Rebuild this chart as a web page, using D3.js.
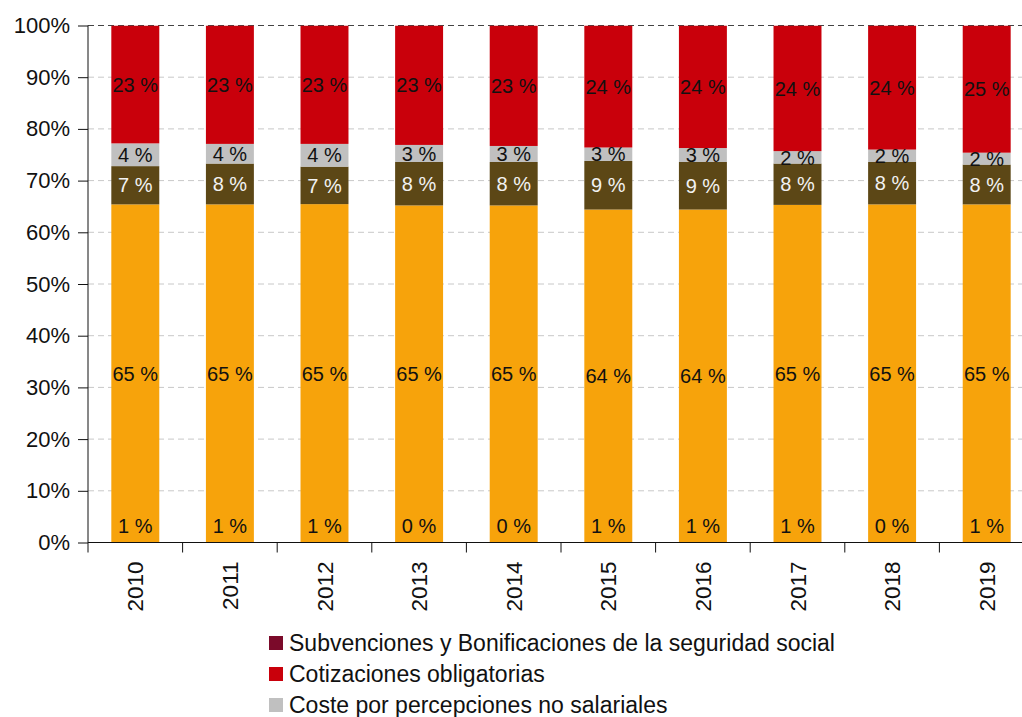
<!DOCTYPE html>
<html>
<head>
<meta charset="utf-8">
<script src="https://cdn.jsdelivr.net/npm/d3@7"></script>
<style>
  body { margin: 0; background: #fff; }
  svg { font-family: "Liberation Sans", Arial, sans-serif; }
</style>
</head>
<body>
<script>
var w = 1022;
var h = 717;

// data (percent of total labour cost)
var years = ["2010", "2011", "2012", "2013", "2014", "2015", "2016", "2017", "2018", "2019"];
var subvenciones = [0.6, 0.7, 0.6, 0.4, 0.3, 0.6, 0.7, 0.5, 0.4, 0.5];
var salario = [65.4, 65.4, 65.45, 65.2, 65.2, 64.4, 64.4, 65.3, 65.4, 65.4];
var pagosExtra = [7.4, 7.9, 7.25, 8.4, 8.4, 9.4, 9.2, 8.0, 8.2, 7.7];
var noSalariales = [4.4, 3.8, 4.4, 3.3, 3.1, 2.6, 2.7, 2.4, 2.4, 2.3];
var cotizaciones = [22.8, 22.9, 22.9, 23.1, 23.3, 23.6, 23.7, 24.3, 24.0, 24.6];
var yTicks = [0, 10, 20, 30, 40, 50, 60, 70, 80, 90, 100];

// legend as it shows in the picture (the other two series have no visible entry)
var legendNames = ["Subvenciones y Bonificaciones de la seguridad social",
                   "Cotizaciones obligatorias",
                   "Coste por percepciones no salariales"];
var legendColors = ["#7b0a2a", "#c9000b", "#c0c0c0"];

// stacked series, bottom to top (subvenciones go below zero and are clipped)
var series = [
  { values: salario, color: "#f7a30b", text: "#111" },
  { values: pagosExtra, color: "#5c4716", text: "#f2f2f2" },
  { values: noSalariales, color: legendColors[2], text: "#111" },
  { values: cotizaciones, color: legendColors[1], text: "#111" }
];

var pLeft = 88, pRight = 1034, pTop = 25.5, pBottom = 542.5;

var x = d3.scaleBand()
  .domain(years)
  .range([pLeft, pRight])
  .paddingInner(0.493)
  .paddingOuter(0.2465);

var y = d3.scaleLinear()
  .domain([0, 100])
  .range([pBottom, pTop]);

var svg = d3.select("body")
  .append("svg")
    .attr("width", w)
    .attr("height", h);

svg.append("defs").append("clipPath").attr("id", "plot")
  .append("rect")
    .attr("x", pLeft).attr("y", pTop)
    .attr("width", pRight - pLeft).attr("height", pBottom - pTop);

// gridlines
svg.append("g").selectAll("line")
  .data(yTicks.slice(1))
  .enter().append("line")
    .attr("x1", pLeft).attr("x2", pRight)
    .attr("y1", function(d) { return y(d); })
    .attr("y2", function(d) { return y(d); })
    .attr("stroke", function(d) { return d === 100 ? "#444" : "#c8c8c8"; })
    .attr("stroke-dasharray", "6,4")
    .attr("stroke-width", 1);

var plot = svg.append("g").attr("clip-path", "url(#plot)");

// subvenciones: drawn below zero
plot.selectAll(".subv")
  .data(subvenciones)
  .enter().append("rect")
    .attr("class", "subv")
    .attr("x", function(d, i) { return x(years[i]); })
    .attr("width", x.bandwidth())
    .attr("y", y(0))
    .attr("height", function(d) { return y(0) - y(d); })
    .attr("fill", legendColors[0]);

var base = years.map(function() { return 0; });
series.forEach(function(s) {
  var segs = s.values.map(function(v, i) {
    var seg = { v: v, y0: base[i], y1: base[i] + v, year: years[i] };
    base[i] += v;
    return seg;
  });
  s.segs = segs;
  plot.selectAll(null)
    .data(segs)
    .enter().append("rect")
      .attr("x", function(d) { return x(d.year); })
      .attr("width", x.bandwidth())
      .attr("y", function(d) { return y(d.y1); })
      .attr("height", function(d) { return y(d.y0) - y(d.y1); })
      .attr("fill", s.color);
});

// labels
series.forEach(function(s) {
  svg.append("g").selectAll("text")
    .data(s.segs)
    .enter().append("text")
      .attr("x", function(d) { return x(d.year) + x.bandwidth() / 2; })
      .attr("y", function(d) { return (y(d.y0) + y(d.y1)) / 2; })
      .attr("dy", "0.36em")
      .attr("text-anchor", "middle")
      .attr("font-size", 20)
      .attr("fill", s.text)
      .text(function(d) { return Math.round(d.v) + " %"; });
});

svg.append("g").selectAll("text")
  .data(subvenciones)
  .enter().append("text")
    .attr("x", function(d, i) { return x(years[i]) + x.bandwidth() / 2; })
    .attr("y", y(0) - 17)
    .attr("dy", "0.36em")
    .attr("text-anchor", "middle")
    .attr("font-size", 20)
    .attr("fill", "#111")
    .text(function(d) { return Math.round(d) + " %"; });

// y axis
var yAxis = svg.append("g")
  .attr("transform", "translate(" + pLeft + ",0)")
  .call(d3.axisLeft(y).tickValues(yTicks).tickSize(10).tickPadding(8)
    .tickFormat(function(d) { return d + "%"; }));
yAxis.select(".domain").remove();
yAxis.selectAll("line").attr("stroke", "#111");
yAxis.selectAll("text").attr("font-size", 22).attr("fill", "#111")
  .attr("font-family", "'Liberation Sans', Arial, sans-serif");

svg.append("line")
  .attr("x1", pLeft).attr("x2", pLeft)
  .attr("y1", pTop).attr("y2", pBottom + 10)
  .attr("stroke", "#111");

// x axis
svg.append("line")
  .attr("x1", pLeft).attr("x2", pRight)
  .attr("y1", pBottom).attr("y2", pBottom)
  .attr("stroke", "#111");

svg.append("g").selectAll("line")
  .data(years)
  .enter().append("line")
    .attr("x1", function(d) { return x(d) + x.bandwidth() / 2 + x.step() / 2; })
    .attr("x2", function(d) { return x(d) + x.bandwidth() / 2 + x.step() / 2; })
    .attr("y1", pBottom).attr("y2", pBottom + 10)
    .attr("stroke", "#111");

svg.append("g").selectAll("text")
  .data(years)
  .enter().append("text")
    .attr("transform", function(d) {
      return "translate(" + (x(d) + x.bandwidth() / 2) + "," + (pBottom + 19) + ") rotate(-90)";
    })
    .attr("dy", "0.36em")
    .attr("text-anchor", "end")
    .attr("font-size", 22.5)
    .attr("fill", "#111")
    .text(function(d) { return d; });

// legend
var legend = svg.append("g").selectAll("g")
  .data(legendNames)
  .enter().append("g")
    .attr("transform", function(d, i) { return "translate(269," + (643 + i * 31) + ")"; });

legend.append("rect")
  .attr("x", 0).attr("y", -7)
  .attr("width", 14).attr("height", 14)
  .attr("fill", function(d, i) { return legendColors[i]; });

legend.append("text")
  .attr("x", 20)
  .attr("dy", "0.36em")
  .attr("font-size", 23)
  .attr("fill", "#111")
  .text(function(d) { return d; });
</script>
</body>
</html>
